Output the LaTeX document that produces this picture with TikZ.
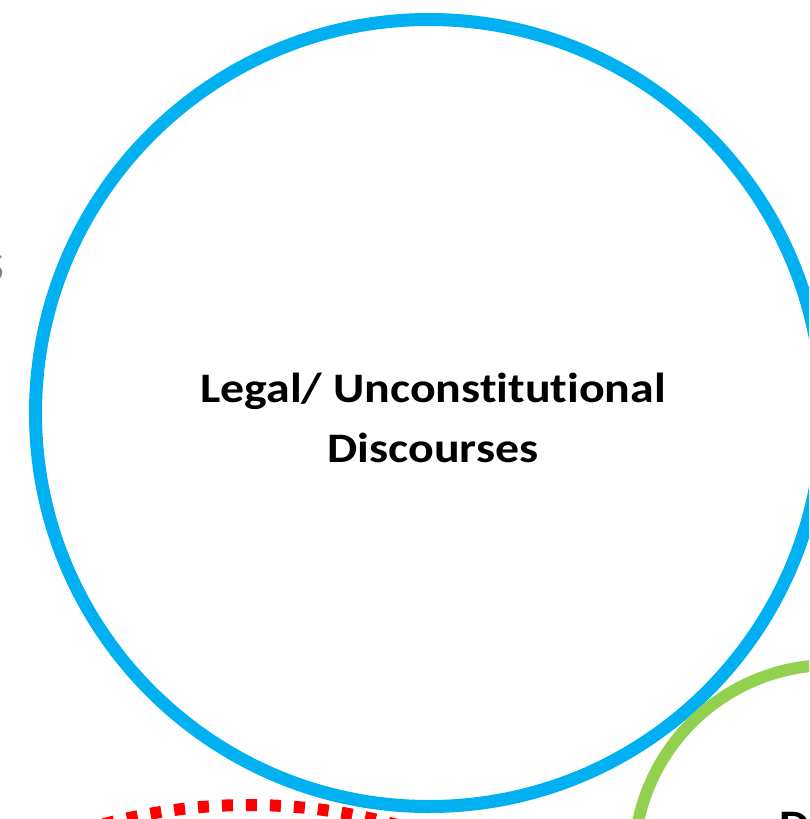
\documentclass[tikz,border=0pt]{standalone}
\usepackage{fontspec}
\setmainfont{Carlito}[Ligatures=NoCommon]
\definecolor{cblue}{RGB}{0,176,240}
\definecolor{cgreen}{RGB}{146,208,80}
\definecolor{cred}{RGB}{255,0,0}
\definecolor{cgray}{RGB}{128,128,128}
\newcommand{\wide}[1]{\scalebox{1.14}[1]{#1}}
\begin{document}
\begin{tikzpicture}[x=1pt,y=-1pt,
  ring/.style={line width=13pt},
  lbl/.style={font=\bfseries\fontsize{42}{58}\selectfont, inner sep=0pt, text=black}]
\useasboundingbox (0,0) rectangle (809,819);
\clip (0,0) rectangle (809,819);
% gray partial letter at left edge
\node[font=\bfseries\fontsize{42}{50}\selectfont, text=cgray, anchor=base east, inner sep=0pt] (gs) at (4,281) {\wide{S}};
% blue circle
\coordinate (bc) at (429,413);
\draw[ring, cblue] (bc) circle[radius=393.5pt];
% red dotted circle
\coordinate (rc) at (249,1360);
\draw[line width=12pt, cred, dash pattern=on 11pt off 13pt] (rc) circle[radius=555pt];
% green circle
\coordinate (gc) at (831,862);
\draw[line width=12pt, cgreen] (gc) circle[radius=197pt];
% labels
\node[lbl, anchor=base] (legal) at (433,402) {\wide{Legal/ Unconstitutional}};
\node[lbl, anchor=base] (disc) at (433,462) {\wide{Discourses}};
\node[lbl, anchor=base west] (di) at (779,839) {\wide{Di}};
\end{tikzpicture}
\end{document}
